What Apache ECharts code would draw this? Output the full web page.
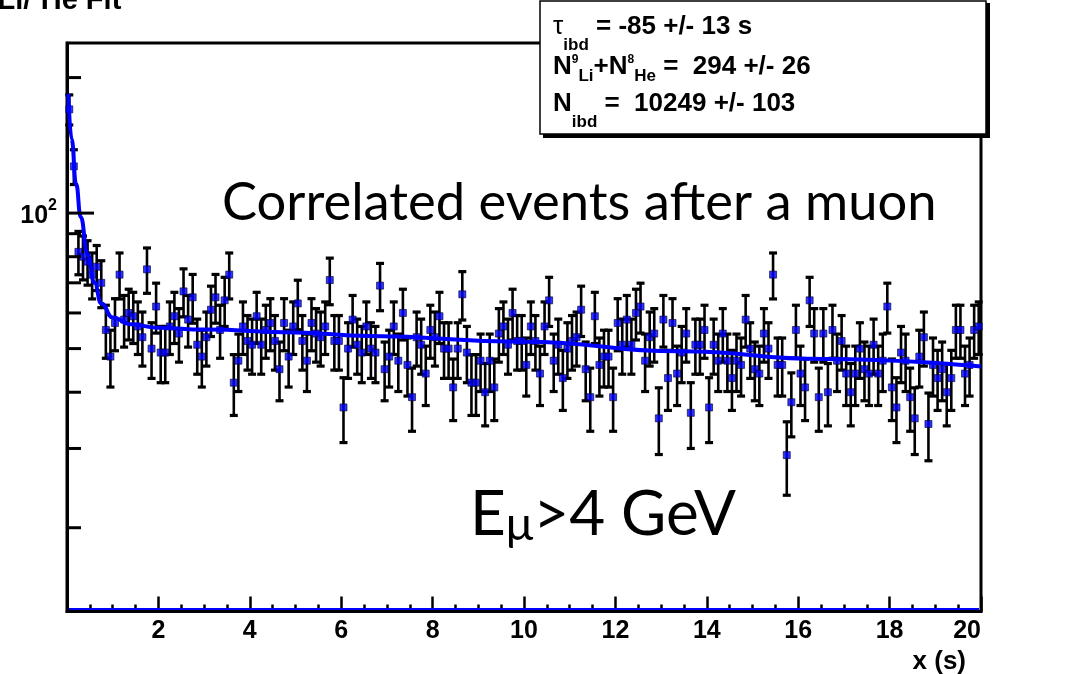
<!DOCTYPE html>
<html><head><meta charset="utf-8">
<script src="https://cdn.jsdelivr.net/npm/echarts@6/dist/echarts.min.js"></script>
<style>html,body{margin:0;padding:0;background:#fff}#c{width:1072px;height:674px}</style>
</head><body><div id="c"></div>
<script>
// ---- data ----
const binWidth = 0.1; // s, 200 bins from 0 to 20 s
const counts = [
  170,127,82,80,78,73,76,70,55,48, 57,73,58,60,59,56,53,75,50,62,
  49,49,56,59,54,67,58,65,51,48, 53,61,65,55,64,73,42,47,56,52,
  51,59,51,55,57,52,45,57,48,56, 63,52,47,57,54,53,56,71,52,52,
  37,50,58,51,49,56,50,49,69,45, 48,56,47,60,46,39,53,51,44,55,
  53,59,50,50,41,50,66,49,42,42, 47,40,47,41,54,56,51,60,52,52,
  46,56,52,44,56,64,47,51,43,50, 52,53,61,45,39,59,46,48,48,39,
  57,51,58,51,60,62,47,53,54,35, 58,43,57,44,49,54,36,51,51,55,
  37,51,47,54,47,43,47,46,58,50, 45,44,54,50,73,46,46,29,38,55,
  44,41,64,54,39,54,40,55,47,52, 44,40,44,50,45,44,51,44,47,62,
  41,37,49,47,39,35,48,53,34,46, 43,45,40,43,55,55,44,46,55,56
];
// fit curve
const fitX = [0.03, 0.1, 0.2, 0.3, 0.45, 0.6, 0.75, 1.0, 1.4, 2.0, 3.0, 5.0, 6.6, 10.0, 13.4, 16.6, 20.0];
const fitY = [184, 146, 116, 98, 81, 70, 63, 58.6, 56.6, 55.6, 55.1, 54.3, 53.3, 51.8, 49.3, 47.4, 45.6];
const yMinorTickValues = [20, 30, 40, 50, 60, 70, 80, 90, 200];
const yMajorTickValues = [100];
const X_MIN = 0, X_MAX = 20, X_STEP = 2;
const Y_MIN = 13.03, Y_MAX = 238.7;

const statsLines = [
  '{t|τ}{sub|ibd}{m| = -85 +/- 13 s}',
  '{m|N}{sup|9}{sub2|Li}{m|+N}{sup|8}{sub2|He}{m| =  294 +/- 26}',
  '{m|N}{sub|ibd}{m| =  10249 +/- 103}'
];

const BOLD = 'Liberation Sans';
const chart = echarts.init(document.getElementById('c'), null, {renderer: 'canvas'});

const points = counts.map((c, i) => [(i + 0.5) * binWidth, c]);
const errData = counts.map((c, i) => [(i + 0.5) * binWidth, c, Math.sqrt(c)]);
const fitData = fitX.map((x, i) => [x, fitY[i]]);

const statsRich = {
  t: {fontFamily: BOLD, fontSize: 26, fontWeight: 'normal', color: '#000', verticalAlign: 'top'},
  m: {fontFamily: BOLD, fontSize: 26, fontWeight: 'bold', color: '#000', verticalAlign: 'top'},
  sub: {fontFamily: BOLD, fontSize: 17, fontWeight: 'bold', color: '#000', verticalAlign: 'bottom', lineHeight: 40},
  sub2: {fontFamily: BOLD, fontSize: 17, fontWeight: 'bold', color: '#000', verticalAlign: 'bottom', lineHeight: 31},
  sup: {fontFamily: BOLD, fontSize: 12, fontWeight: 'bold', color: '#000', verticalAlign: 'top'}
};

chart.setOption({
  animation: false,
  backgroundColor: '#fff',
  grid: {left: 67, right: 91, top: 43, bottom: 62.5, show: true, borderColor: '#000', borderWidth: 3, backgroundColor: '#fff'},
  xAxis: {
    type: 'value', min: X_MIN, max: X_MAX, interval: X_STEP,
    axisLine: {show: true, lineStyle: {color: '#000', width: 3}},
    axisTick: {show: true, inside: true, length: 15, lineStyle: {color: '#000', width: 2.5}},
    minorTick: {show: true, splitNumber: 4, length: 7, lineStyle: {color: '#000', width: 2.5}},
    splitLine: {show: false},
    axisLabel: {show: true, showMinLabel: false, alignMaxLabel: 'right', margin: 7, color: '#000', fontFamily: BOLD, fontWeight: 'bold', fontSize: 25}
  },
  yAxis: {
    type: 'log', logBase: 10, min: Y_MIN, max: Y_MAX,
    axisLine: {show: true, lineStyle: {color: '#000', width: 3}},
    axisTick: {show: false},
    splitLine: {show: false},
    axisLabel: {
      show: true, margin: 10, showMinLabel: false, showMaxLabel: false,
      formatter: v => (Math.abs(v - 100) < 1e-6 ? '{b|10}{s|2}' : ''),
      rich: {
        b: {fontFamily: BOLD, fontWeight: 'bold', fontSize: 25, color: '#000', lineHeight: 31, verticalAlign: 'bottom'},
        s: {fontFamily: BOLD, fontWeight: 'bold', fontSize: 16, color: '#000', verticalAlign: 'top'}
      }
    }
  },
  series: [
    { // error bars
      type: 'custom', data: errData, z: 2, silent: true,
      encode: {x: 0, y: 1},
      renderItem: (params, api) => {
        const x = api.value(0), v = api.value(1), e = api.value(2);
        const top = api.coord([x, v + e]);
        const bot = api.coord([x, v - e]);
        const st = {stroke: '#000', lineWidth: 2.6};
        const cap = {stroke: '#000', lineWidth: 3.2};
        return {type: 'group', children: [
          {type: 'line', shape: {x1: top[0], y1: top[1], x2: bot[0], y2: bot[1]}, style: st},
          {type: 'line', shape: {x1: top[0] - 4, y1: top[1], x2: top[0] + 4, y2: top[1]}, style: cap},
          {type: 'line', shape: {x1: bot[0] - 4, y1: bot[1], x2: bot[0] + 4, y2: bot[1]}, style: cap}
        ]};
      }
    },
    { // data points
      type: 'scatter', data: points, z: 3, silent: true,
      symbol: 'rect', symbolSize: 7,
      itemStyle: {color: '#0000ff', borderColor: '#000033', borderWidth: 0.8}
    },
    { // fit
      type: 'line', data: fitData, z: 4, silent: true,
      smooth: true, smoothMonotone: 'x', showSymbol: false, symbol: 'none',
      lineStyle: {color: '#0000ff', width: 4}
    },
    { // y minor ticks
      type: 'custom', data: yMinorTickValues.map(v => [X_MIN, v]), z: 6, silent: true,
      encode: {x: 0, y: 1},
      renderItem: (params, api) => {
        const c = api.coord([api.value(0), api.value(1)]);
        return {type: 'line', shape: {x1: c[0], y1: c[1], x2: c[0] + 14, y2: c[1]}, style: {stroke: '#000', lineWidth: 3}};
      }
    },
    { // y major ticks
      type: 'custom', data: yMajorTickValues.map(v => [X_MIN, v]), z: 6, silent: true,
      encode: {x: 0, y: 1},
      renderItem: (params, api) => {
        const c = api.coord([api.value(0), api.value(1)]);
        return {type: 'line', shape: {x1: c[0], y1: c[1], x2: c[0] + 27, y2: c[1]}, style: {stroke: '#000', lineWidth: 3}};
      }
    },
    { // blue baseline along the bottom
      type: 'custom', data: [[X_MIN, Y_MIN, X_MAX]], z: 6, silent: true,
      encode: {x: 0, y: 1},
      renderItem: (params, api) => {
        const a = api.coord([api.value(0), api.value(1)]);
        const b = api.coord([api.value(2), api.value(1)]);
        return {type: 'line', shape: {x1: a[0] + 2, y1: a[1] - 2.5, x2: b[0] - 2, y2: b[1] - 2.5}, style: {stroke: '#0000ff', lineWidth: 2}};
      }
    }
  ],
  graphic: [
    { // title (cut at the top-left in the reference)
      type: 'text', z: 50, left: -12, top: -19,
      style: {
        text: '{s|9}{m|Li/}{s|8}{m|He Fit}',
        rich: {
          m: {fontFamily: BOLD, fontWeight: 'bold', fontSize: 29, color: '#000', verticalAlign: 'bottom', lineHeight: 34},
          s: {fontFamily: BOLD, fontWeight: 'bold', fontSize: 17, color: '#000', verticalAlign: 'top'}
        }
      }
    },
    { // stats box shadow
      type: 'rect', z: 40, shape: {x: 543, y: 3, width: 447, height: 135},
      style: {fill: '#000'}
    },
    { // stats box
      type: 'rect', z: 41, shape: {x: 540, y: 1, width: 446, height: 133},
      style: {fill: '#fff', stroke: '#000', lineWidth: 1.5}
    },
    {type: 'text', z: 42, x: 553, y: 14, style: {text: statsLines[0], rich: statsRich, verticalAlign: 'top', align: 'left'}},
    {type: 'text', z: 42, x: 553, y: 54, style: {text: statsLines[1], rich: statsRich, verticalAlign: 'top', align: 'left'}},
    {type: 'text', z: 42, x: 553, y: 91, style: {text: statsLines[2], rich: statsRich, verticalAlign: 'top', align: 'left'}},
    { // annotations
      type: 'text', z: 30, x: 222, y: 203,
      style: {text: 'Correlated events after a muon', font: '52.5px Lato', fill: '#000', align: 'left', verticalAlign: 'middle'}
    },
    {
      type: 'text', z: 30, x: 470, y: 516,
      style: {
        text: '{e|E}{u|μ}{e|>4 GeV}',
        align: 'left', verticalAlign: 'middle',
        rich: {
          e: {fontFamily: 'Lato', fontSize: 62, color: '#000', verticalAlign: 'top', lineHeight: 64},
          u: {fontFamily: 'Lato', fontSize: 46, color: '#000', verticalAlign: 'bottom'}
        }
      }
    },
    { // x-axis title
      type: 'text', z: 30, x: 966, y: 662,
      style: {text: 'x (s)', font: 'bold 26px "Liberation Sans"', fill: '#000', align: 'right', verticalAlign: 'middle'}
    }
  ]
});
</script>
</body></html>
